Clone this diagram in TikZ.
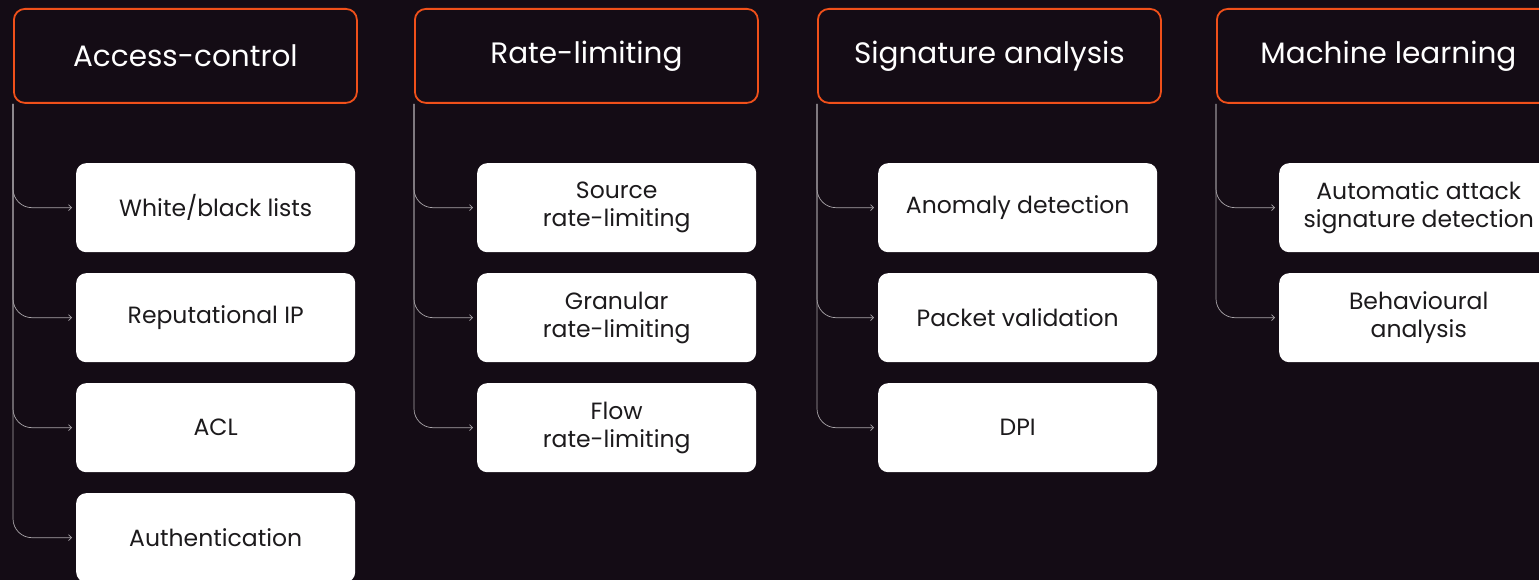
\documentclass[tikz,border=0pt]{standalone}
\usepackage{fontspec}
\setmainfont{Poppins}
\usetikzlibrary{arrows.meta}
\definecolor{bgdark}{HTML}{140C15}
\definecolor{accent}{HTML}{F0501A}
\definecolor{linkgray}{HTML}{A8A4A8}
\definecolor{inktext}{HTML}{1C1A1C}
\begin{document}
\begin{tikzpicture}[x=1pt,y=-1pt,
  headbox/.style={draw=accent, line width=1.8pt, fill=bgdark, rounded corners=11pt,
    anchor=north west, minimum width=343pt, minimum height=94pt, inner sep=0pt,
    text=white, font=\fontsize{29.5}{34}\selectfont},
  itembox/.style={fill=white, rounded corners=10pt, anchor=north west,
    minimum width=279pt, minimum height=89pt, inner sep=0pt, align=center,
    text=inktext, font=\fontsize{23.5}{28}\selectfont},
  link/.style={draw=linkgray, line width=0.7pt, rounded corners=19pt,
    -{Straight Barb[length=3pt,width=6pt]}, shorten >=4pt}
]
\useasboundingbox (0,0) rectangle (1539,580);
\clip (0,0) rectangle (1539,580);
\fill[bgdark] (0,0) rectangle (1539,580);

% column headers
\node[headbox] (hA) at (13,8)   {Access-control};
\node[headbox] (hB) at (414,8)  {Rate-limiting};
\node[headbox] (hC) at (817,8)  {Signature analysis};
\node[headbox] (hD) at (1216,8) {Machine learning};

% access control
\node[itembox] (a1) at (76,163) {White/black lists};
\node[itembox] (a2) at (76,273) {Reputational IP};
\node[itembox] (a3) at (76,383) {ACL};
\node[itembox] (a4) at (76,493) {Authentication};

% rate limiting
\node[itembox] (b1) at (477,163) {Source\\rate-limiting};
\node[itembox] (b2) at (477,273) {Granular\\rate-limiting};
\node[itembox] (b3) at (477,383) {Flow\\rate-limiting};

% signature analysis
\node[itembox] (c1) at (878,163) {Anomaly detection};
\node[itembox] (c2) at (878,273) {Packet validation};
\node[itembox] (c3) at (878,383) {DPI};

% machine learning
\node[itembox] (d1) at (1279,163) {Automatic attack\\signature detection};
\node[itembox] (d2) at (1279,273) {Behavioural\\analysis};

% branches from each header
\foreach \h/\c in {hA/a1,hA/a2,hA/a3,hA/a4,hB/b1,hB/b2,hB/b3,hC/c1,hC/c2,hC/c3,hD/d1,hD/d2}
  \draw[link] (\h.south west) |- (\c.west);
\end{tikzpicture}
\end{document}
